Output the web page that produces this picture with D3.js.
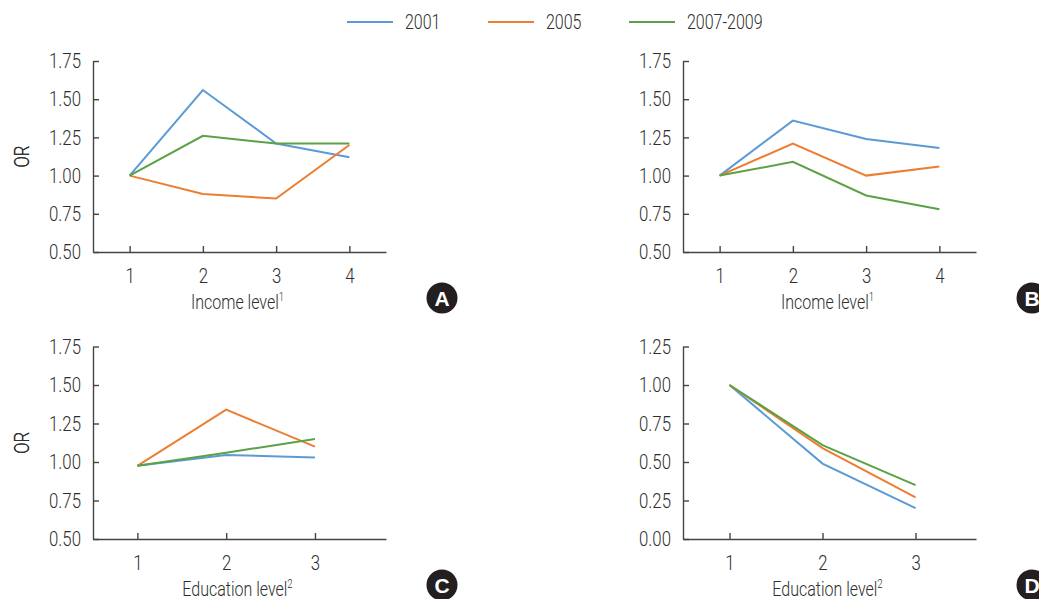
<!DOCTYPE html>
<html>
<head>
<meta charset="utf-8">
<script src="https://cdn.jsdelivr.net/npm/d3@7"></script>
<style>
  body { margin: 0; background: #fff; }
  svg text { font-family: "Roboto", "Liberation Sans", sans-serif; font-weight: 300; fill: #2e2e2e; }
</style>
</head>
<body>
<svg id="chart" width="1039" height="599"></svg>
<script>
// data
var seriesNames = ["2001", "2005", "2007-2009"];
var seriesColors = ["#5b9bd5", "#ed7d31", "#5ba145"];

var incomeLevels = [1, 2, 3, 4];
var educationLevels = [1, 2, 3];

var incomeA_2001 = [1.00, 1.56, 1.21, 1.12];
var incomeA_2005 = [1.00, 0.88, 0.85, 1.20];
var incomeA_2007 = [1.00, 1.26, 1.21, 1.21];

var incomeB_2001 = [1.00, 1.36, 1.24, 1.18];
var incomeB_2005 = [1.00, 1.21, 1.00, 1.06];
var incomeB_2007 = [1.00, 1.09, 0.87, 0.78];

var eduC_2001 = [0.975, 1.045, 1.03];
var eduC_2005 = [0.975, 1.34, 1.10];
var eduC_2007 = [0.975, 1.06, 1.15];

var eduD_2001 = [1.00, 0.49, 0.20];
var eduD_2005 = [1.00, 0.59, 0.27];
var eduD_2007 = [1.00, 0.61, 0.35];

var yTicksIncome = [0.50, 0.75, 1.00, 1.25, 1.50, 1.75];
var yTicksEdu = [0.00, 0.25, 0.50, 0.75, 1.00, 1.25];

var panels = [
  {letter: "A", xs: incomeLevels, series: [incomeA_2001, incomeA_2005, incomeA_2007], xDom: [0.5, 4.5], yTicks: yTicksIncome,
   left: 93, top: 61, bottom: 252, title: "Income level", sup: "1"},
  {letter: "B", xs: incomeLevels, series: [incomeB_2001, incomeB_2005, incomeB_2007], xDom: [0.5, 4.5], yTicks: yTicksIncome,
   left: 683, top: 61, bottom: 252, title: "Income level", sup: "1"},
  {letter: "C", xs: educationLevels, series: [eduC_2001, eduC_2005, eduC_2007], xDom: [0.5, 3.8], yTicks: yTicksIncome,
   left: 93, top: 346.5, bottom: 539, title: "Education level", sup: "2"},
  {letter: "D", xs: educationLevels, series: [eduD_2001, eduD_2005, eduD_2007], xDom: [0.5, 3.65], yTicks: yTicksEdu,
   left: 683, top: 346.5, bottom: 539, title: "Education level", sup: "2"}
];

var svg = d3.select("#chart");
var plotW = 293;
var squeeze = 0.8; // the original uses a condensed face

// squeeze text horizontally, keeping its anchor point
function condense(sel, extra) {
  sel.each(function() {
    var t = d3.select(this);
    var x = +t.attr("x") || 0, y = +t.attr("y") || 0;
    t.attr("x", 0).attr("y", 0)
     .attr("transform", "translate(" + x + "," + y + ")" + (extra || "") + " scale(" + squeeze + ",1)");
  });
}

panels.forEach(function(p) {
  var x = d3.scaleLinear().domain(p.xDom).range([p.left, p.left + plotW]);
  var y = d3.scaleLinear().domain(d3.extent(p.yTicks)).range([p.bottom, p.top]);
  var g = svg.append("g");

  var yAxis = g.append("g")
      .attr("transform", "translate(" + p.left + ",0)")
      .call(d3.axisLeft(y).tickValues(p.yTicks).tickFormat(d3.format(".2f"))
        .tickSizeInner(-6).tickSizeOuter(0).tickPadding(12));

  var xAxis = g.append("g")
      .attr("transform", "translate(0," + p.bottom + ")")
      .call(d3.axisBottom(x).tickValues(p.xs).tickFormat(d3.format("d"))
        .tickSizeInner(-6).tickSizeOuter(0).tickPadding(16));

  [yAxis, xAxis].forEach(function(a) {
    a.selectAll("path, line").attr("stroke", "#444").attr("stroke-width", 1.4);
    a.selectAll("text").style("font-size", "21px").style("font-family", "Roboto, sans-serif")
      .style("font-weight", 300).attr("fill", "#2e2e2e");
    condense(a.selectAll("text"));
  });

  // OR label
  g.append("text")
      .attr("x", 29).attr("y", (p.top + p.bottom) / 2)
      .attr("text-anchor", "middle")
      .style("font-size", "21px")
      .text("OR")
      .call(condense, " rotate(-90)");

  // x title with superscript
  var t = g.append("text")
      .attr("x", p.left + plotW / 2 - 2)
      .attr("y", p.bottom + 57)
      .attr("text-anchor", "middle")
      .style("font-size", "20px")
      .text(p.title);
  t.append("tspan").attr("dy", -8).style("font-size", "12px").text(p.sup);
  condense(t);

  var line = d3.line()
      .x(function(d, i) { return x(p.xs[i]); })
      .y(function(d) { return y(d); });

  p.series.forEach(function(s, i) {
    g.append("path")
        .datum(s)
        .attr("d", line)
        .attr("fill", "none")
        .attr("stroke", seriesColors[i])
        .attr("stroke-width", 2);
  });

  // corner badge
  var bx = p.left + 349, by = p.bottom + 46;
  g.append("circle").attr("cx", bx).attr("cy", by).attr("r", 15.5).attr("fill", "#231f20");
  g.append("text")
      .attr("x", bx).attr("y", by + 7.5)
      .attr("text-anchor", "middle")
      .style("font-family", "'Liberation Sans', Arial, sans-serif")
      .style("font-weight", "bold")
      .style("font-size", "21px")
      .style("fill", "#fff")
      .text(p.letter);
});

// legend
var legend = svg.append("g");
var legendX = [347, 488, 629];
seriesNames.forEach(function(n, i) {
  legend.append("line")
      .attr("x1", legendX[i]).attr("x2", legendX[i] + 46)
      .attr("y1", 22).attr("y2", 22)
      .attr("stroke", seriesColors[i]).attr("stroke-width", 2);
  legend.append("text")
      .attr("x", legendX[i] + 58).attr("y", 29)
      .style("font-size", "20px")
      .text(n)
      .call(condense);
});
</script>
</body>
</html>
